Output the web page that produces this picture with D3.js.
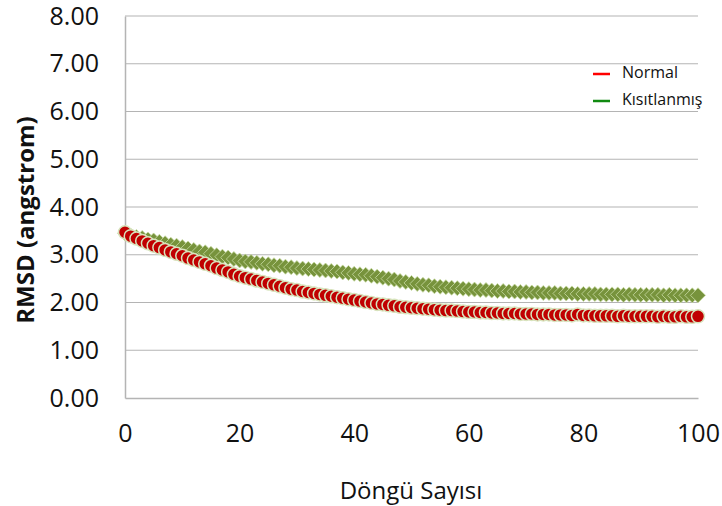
<!DOCTYPE html>
<html>
<head>
<meta charset="utf-8">
<script src="https://cdn.jsdelivr.net/npm/d3@7/dist/d3.min.js"></script>
<style>
  html, body { margin: 0; padding: 0; background: #fff; }
  svg { display: block; font-family: "Open Sans", sans-serif; }
</style>
</head>
<body>
<svg id="chart" width="722" height="506"></svg>
<script>
// Cycle number (Döngü Sayısı)
const cycles = d3.range(0, 101);

// RMSD per cycle, unrestrained run
const normalValues = [
  3.47, 3.39, 3.34, 3.29, 3.24, 3.19, 3.15, 3.10, 3.06, 3.02,
  2.98, 2.93, 2.89, 2.85, 2.81, 2.77, 2.72, 2.68, 2.64, 2.59,
  2.55, 2.52, 2.49, 2.46, 2.43, 2.40, 2.37, 2.34, 2.31, 2.28,
  2.26, 2.23, 2.21, 2.19, 2.17, 2.15, 2.13, 2.11, 2.09, 2.07,
  2.05, 2.03, 2.01, 1.99, 1.97, 1.96, 1.94, 1.93, 1.91, 1.90,
  1.89, 1.88, 1.87, 1.86, 1.85, 1.84, 1.83, 1.83, 1.82, 1.81,
  1.80, 1.80, 1.79, 1.79, 1.78, 1.78, 1.77, 1.77, 1.77, 1.76,
  1.76, 1.76, 1.75, 1.75, 1.75, 1.74, 1.74, 1.74, 1.73, 1.75,
  1.73, 1.73, 1.72, 1.72, 1.72, 1.72, 1.71, 1.72, 1.71, 1.71,
  1.71, 1.71, 1.71, 1.70, 1.71, 1.70, 1.70, 1.71, 1.70, 1.70,
  1.71
];

// RMSD per cycle, restrained run
const restrainedValues = [
  3.45, 3.40, 3.37, 3.35, 3.32, 3.30, 3.27, 3.24, 3.21, 3.19,
  3.16, 3.13, 3.10, 3.07, 3.05, 3.02, 2.99, 2.96, 2.94, 2.91,
  2.88, 2.86, 2.85, 2.83, 2.81, 2.80, 2.78, 2.77, 2.75, 2.74,
  2.72, 2.71, 2.70, 2.69, 2.68, 2.67, 2.66, 2.65, 2.63, 2.62,
  2.60, 2.59, 2.58, 2.56, 2.54, 2.52, 2.50, 2.48, 2.45, 2.43,
  2.41, 2.39, 2.37, 2.36, 2.34, 2.33, 2.32, 2.31, 2.30, 2.29,
  2.28, 2.27, 2.26, 2.26, 2.25, 2.24, 2.24, 2.23, 2.23, 2.22,
  2.22, 2.21, 2.21, 2.20, 2.20, 2.20, 2.19, 2.19, 2.19, 2.18,
  2.18, 2.18, 2.18, 2.17, 2.17, 2.17, 2.17, 2.16, 2.17, 2.16,
  2.16, 2.16, 2.16, 2.16, 2.15, 2.16, 2.15, 2.15, 2.15, 2.15,
  2.15
];

const xTicks = [0, 20, 40, 60, 80, 100];
const yTicks = [0, 1, 2, 3, 4, 5, 6, 7, 8];
const seriesNames = ["Normal", "Kısıtlanmış"];

const svg = d3.select("#chart");

const x = d3.scaleLinear().domain([0, 100]).range([125, 698]);
const y = d3.scaleLinear().domain([0, 8]).range([398, 16]);

// Horizontal gridlines
svg.append("g")
  .selectAll("line")
  .data(yTicks.filter(d => d > 0))
  .join("line")
  .attr("x1", x(0)).attr("x2", x(100))
  .attr("y1", d => y(d)).attr("y2", d => y(d))
  .attr("stroke", "#b4b4b4").attr("stroke-width", 1.2);

// Y axis
const yAxis = svg.append("g")
  .attr("transform", `translate(${x(0)},0)`)
  .call(d3.axisLeft(y).tickValues(yTicks).tickFormat(d3.format(".2f")).tickSize(0).tickPadding(26));
yAxis.select(".domain").attr("stroke", "#b4b4b4").attr("stroke-width", 1.5);
yAxis.selectAll("text").attr("font-size", 25).attr("fill", "#111")
  .attr("font-family", "'Open Sans', sans-serif");

// X axis
const xAxis = svg.append("g")
  .attr("transform", `translate(0,${y(0)})`)
  .call(d3.axisBottom(x).tickValues(xTicks).tickFormat(d3.format("d")).tickSize(0).tickPadding(26));
xAxis.select(".domain").attr("stroke", "#b4b4b4").attr("stroke-width", 1.5);
xAxis.selectAll("text").attr("font-size", 25).attr("fill", "#111")
  .attr("font-family", "'Open Sans', sans-serif");

// Axis titles
svg.append("text")
  .attr("x", 411).attr("y", 499)
  .attr("text-anchor", "middle")
  .attr("font-size", 24).attr("fill", "#111")
  .text("Döngü Sayısı");

svg.append("text")
  .attr("transform", "translate(34,220) rotate(-90)")
  .attr("text-anchor", "middle")
  .attr("font-size", 24).attr("font-weight", "bold").attr("fill", "#111")
  .text("RMSD (angstrom)");

// Restrained series: olive diamonds
const dw = 7.5, dh = 7.5;
const diamond = `M0,${-dh}L${dw},0L0,${dh}L${-dw},0Z`;
svg.append("g")
  .selectAll("path")
  .data(cycles.map((c, i) => [c, restrainedValues[i]]))
  .join("path")
  .attr("d", diamond)
  .attr("transform", d => `translate(${x(d[0])},${y(d[1])})`)
  .attr("fill", "#77933c")
  .attr("stroke", "#c9dca4").attr("stroke-width", 0.8);

// Unrestrained series: red circles
svg.append("g")
  .selectAll("circle")
  .data(cycles.map((c, i) => [c, normalValues[i]]))
  .join("circle")
  .attr("cx", d => x(d[0])).attr("cy", d => y(d[1]))
  .attr("r", 6.5)
  .attr("fill", "#c00000")
  .attr("stroke", "#d7e4bd").attr("stroke-width", 1.5);

// Legend
const legendColors = ["#ff0000", "#118a11"];
const legend = svg.append("g");
seriesNames.forEach((name, i) => {
  const ly = 74 + i * 27;
  legend.append("line")
    .attr("x1", 593).attr("x2", 610)
    .attr("y1", ly).attr("y2", ly)
    .attr("stroke", legendColors[i]).attr("stroke-width", 2.5);
  legend.append("text")
    .attr("x", 622).attr("y", ly + 4)
    .attr("font-size", 16).attr("fill", "#111")
    .text(name);
});
</script>
</body>
</html>
